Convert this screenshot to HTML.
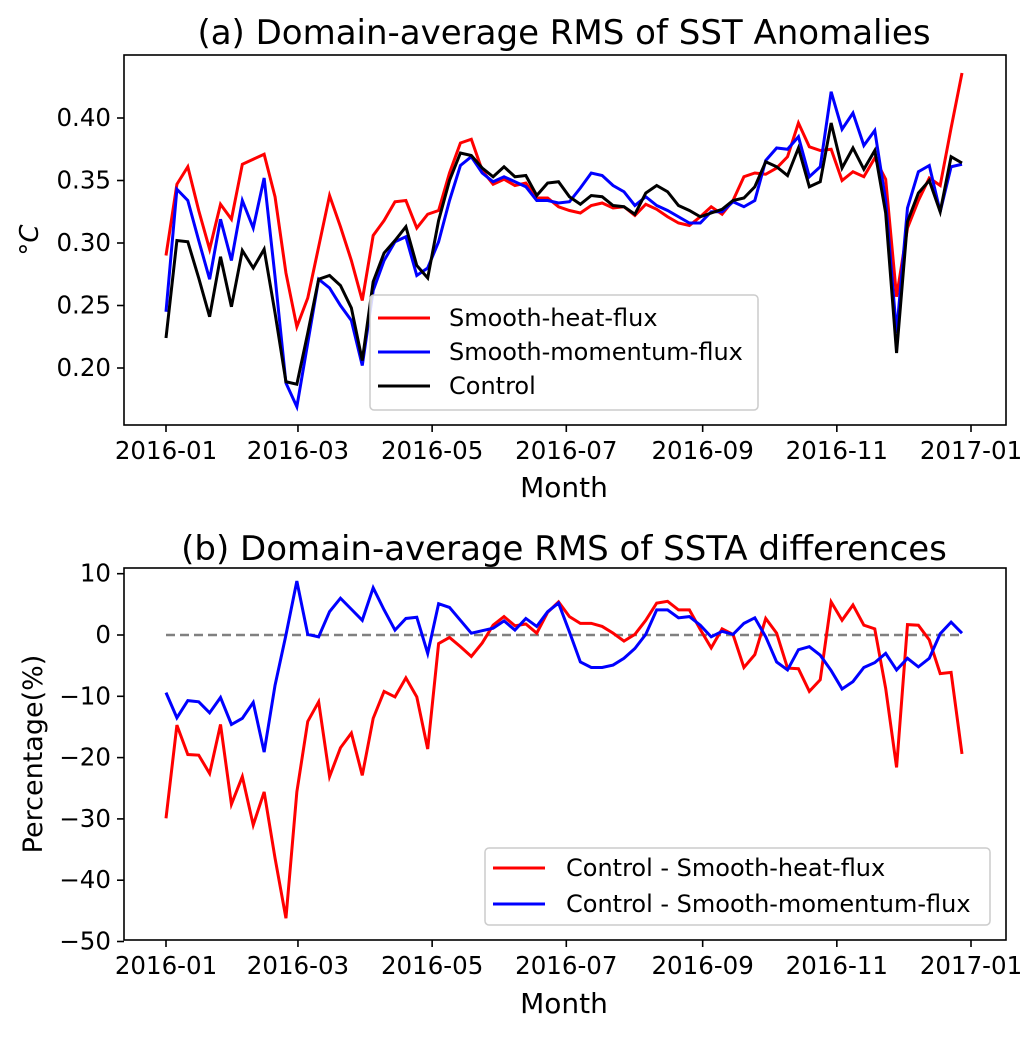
<!DOCTYPE html>
<html><head><meta charset="utf-8"><style>
body{margin:0;background:#fff;}
svg text{font-family:"DejaVu Sans","Liberation Sans",sans-serif;fill:#000;}
</style></head><body>
<svg id="chart" width="1033" height="1032" xmlns="http://www.w3.org/2000/svg"></svg>
<script>
const monthLabels=["2016-01","2016-03","2016-05","2016-07","2016-09","2016-11","2017-01"];
const monthDays=[0,60,121,182,244,305,366];
const topTicks=[0.20,0.25,0.30,0.35,0.40];
const botTicks=[10,0,-10,-20,-30,-40,-50];
const heatRms=[0.290,0.347,0.361,0.326,0.295,0.331,0.319,0.363,0.367,0.371,0.337,0.276,0.233,0.256,0.297,0.338,0.313,0.286,0.254,0.306,0.318,0.333,0.334,0.312,0.323,0.326,0.356,0.380,0.383,0.358,0.347,0.351,0.346,0.348,0.336,0.336,
0.329,0.326,0.324,0.330,0.332,0.328,0.329,0.322,0.331,0.327,0.321,0.316,0.314,0.321,0.329,0.323,0.334,0.353,0.356,0.355,0.360,0.369,0.396,0.377,0.374,0.375,0.350,0.357,0.353,0.368,0.351,0.257,0.312,0.334,0.352,0.346,0.392,0.436];
const momRms=[0.245,0.343,0.334,0.302,0.271,0.319,0.286,0.334,0.312,0.352,0.273,0.188,0.169,0.220,0.271,0.264,0.250,0.238,0.202,0.262,0.286,0.301,0.305,0.274,0.280,0.301,0.334,0.362,0.369,0.356,0.349,0.353,0.349,0.345,0.334,0.334,
0.332,0.333,0.344,0.356,0.354,0.346,0.341,0.330,0.337,0.330,0.326,0.321,0.316,0.316,0.325,0.325,0.333,0.329,0.334,0.366,0.376,0.375,0.385,0.353,0.361,0.421,0.391,0.404,0.378,0.390,0.334,0.228,0.328,0.357,0.362,0.325,0.361,0.363];
const ctrlRms=[0.224,0.302,0.301,0.272,0.241,0.289,0.249,0.294,0.280,0.295,0.244,0.189,0.187,0.228,0.271,0.274,0.266,0.248,0.206,0.269,0.292,0.302,0.313,0.282,0.272,0.318,0.350,0.372,0.370,0.360,0.353,0.361,0.353,0.354,0.338,0.348,
0.349,0.337,0.331,0.338,0.337,0.330,0.329,0.323,0.340,0.346,0.341,0.330,0.326,0.321,0.324,0.327,0.334,0.336,0.345,0.365,0.361,0.354,0.376,0.345,0.349,0.396,0.360,0.376,0.359,0.374,0.324,0.212,0.317,0.340,0.350,0.325,0.369,0.364];
const diffHeat=[-29.9,-14.7,-19.5,-19.6,-22.6,-14.6,-27.6,-23.1,-31.0,-25.6,-36.4,-46.2,-25.6,-14.1,-10.9,-23.1,-18.4,-16.0,-22.9,-13.6,-9.2,-10.1,-7.0,-10.1,-18.6,-1.4,-0.4,-1.9,-3.5,-1.3,1.6,3.0,1.5,1.8,0.3,3.7,
5.4,3.0,1.9,1.9,1.4,0.3,-1.0,0.1,2.4,5.2,5.5,4.1,4.1,0.9,-2.1,1.0,0.1,-5.3,-3.2,2.7,0.3,-5.4,-5.5,-9.2,-7.3,5.4,2.4,4.9,1.6,1.0,-8.7,-21.6,1.7,1.6,-0.8,-6.3,-6.1,-19.4];
const diffMom=[-9.4,-13.5,-10.7,-10.9,-12.7,-10.2,-14.6,-13.6,-11.0,-19.1,-8.2,0,8.8,0.1,-0.3,3.8,6.0,4.2,2.4,7.7,4.1,0.8,2.7,2.9,-3.0,5.1,4.5,2.4,0.3,0.7,1.1,2.3,0.8,2.7,1.4,3.8,
5.2,0.5,-4.4,-5.3,-5.3,-4.9,-3.8,-2.2,0.1,4.1,4.1,2.8,3.0,1.6,-0.3,0.6,0.1,1.9,2.8,-0.3,-4.4,-5.7,-2.4,-1.9,-3.3,-5.8,-8.8,-7.6,-5.3,-4.5,-3.0,-5.7,-3.8,-5.2,-3.8,0.2,2.1,0.3];

const NS="http://www.w3.org/2000/svg";
const svg=document.getElementById('chart');
function mk(tag,attrs,parent,text){const e=document.createElementNS(NS,tag);for(const k in attrs)e.setAttribute(k,attrs[k]);if(text!==undefined)e.textContent=text;(parent||svg).appendChild(e);return e;}
const xDay=d=>166+d*(971-166)/366;
const xIdx=i=>166+i*(962-166)/73;
const yTop=v=>118+(0.40-v)*1250;
const yBot=v=>635-v*6.13;

function axes(name,y0,y1,ticks,yf,fmt){
  const g=mk('g',{});
  
  
  mk('rect',{x:124,y:y0,width:882,height:y1-y0,fill:'none',stroke:'#000','stroke-width':1.6},g);
  monthDays.forEach((d,i)=>{const x=xDay(d);
    mk('line',{x1:x,x2:x,y1:y1,y2:y1+7,stroke:'#000','stroke-width':1.6},g);
    const t=mk('text',{x:x,y:y1+34,'font-size':24.5,'text-anchor':'middle'},g,monthLabels[i]);
    
    });
  ticks.forEach(v=>{const y=yf(v);
    mk('line',{x1:117,x2:124,y1:y,y2:y,stroke:'#000','stroke-width':1.6},g);
    const t=mk('text',{x:111,y:y+8,'font-size':24.5,'text-anchor':'end'},g,fmt(v));
    
    });
  return g;
}
function series(arr,yf,color,name){
  const p=mk('polyline',{points:arr.map((v,i)=>xIdx(i)+','+yf(v)).join(' '),fill:'none',stroke:color,'stroke-width':3,'stroke-linejoin':'miter'});
  
  
}
function legend(name,x,y,w,h,items,lx,tx){
  const g=mk('g',{});
  
  
  mk('rect',{x:x,y:y,width:w,height:h,rx:4,fill:'#fff','fill-opacity':0.85,stroke:'#ccc','stroke-width':1.5},g);
  items.forEach(([lab,col,yy])=>{
    mk('line',{x1:lx,x2:lx+52,y1:yy,y2:yy,stroke:col,'stroke-width':3},g);
    const t=mk('text',{x:tx,y:yy+8,'font-size':24},g,lab);
    
    
  });
}
axes('top-axes',55,425,topTicks,yTop,v=>v.toFixed(2));
series(heatRms,yTop,'#ff0000','heat-flux-line');
series(momRms,yTop,'#0000ff','momentum-flux-line');
series(ctrlRms,yTop,'#000000','control-line');
legend('top-legend',370,295,388,115,[['Smooth-heat-flux','#ff0000',318],['Smooth-momentum-flux','#0000ff',352],['Control','#000',386]],378,449);
let t=mk('text',{x:564,y:44,'font-size':34,'text-anchor':'middle'},svg,'(a) Domain-average RMS of SST Anomalies');

t=mk('text',{x:564,y:497,'font-size':28,'text-anchor':'middle'},svg,'Month');

t=mk('text',{x:0,y:0,'font-size':26,'text-anchor':'middle','font-style':'italic',transform:'translate(38,240) rotate(-90)'},svg,'°C');

axes('bottom-axes',568,940,botTicks,yBot,v=>v<0?'\u2212'+Math.abs(v):String(v));
const z=mk('line',{x1:166,x2:962,y1:yBot(0),y2:yBot(0),stroke:'#808080','stroke-width':2.5,'stroke-dasharray':'9,5'});

series(diffHeat,yBot,'#ff0000','diff-heat-line');
series(diffMom,yBot,'#0000ff','diff-momentum-line');
legend('bottom-legend',485,848,505,77,[['Control - Smooth-heat-flux','#ff0000',868],['Control - Smooth-momentum-flux','#0000ff',904]],493,566);
t=mk('text',{x:564,y:560,'font-size':34,'text-anchor':'middle'},svg,'(b) Domain-average RMS of SSTA differences');

t=mk('text',{x:0,y:0,'font-size':27,'text-anchor':'middle',transform:'translate(42,754) rotate(-90)'},svg,'Percentage(%)');

t=mk('text',{x:564,y:1013,'font-size':28,'text-anchor':'middle'},svg,'Month');

</script>
</body></html>
